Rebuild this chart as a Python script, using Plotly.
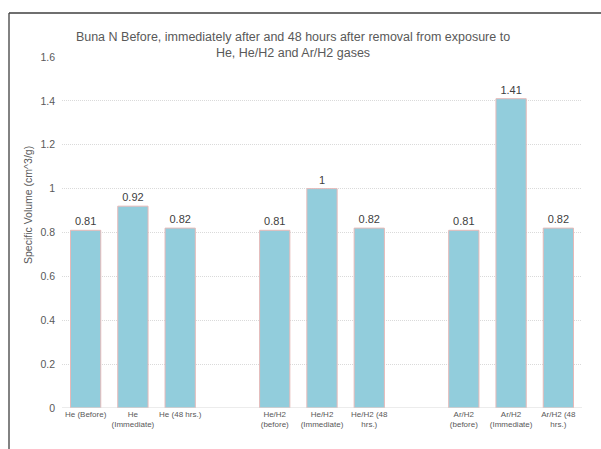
import plotly.graph_objects as go

# Category slots (blank slots separate the three gas groups)
categories = ["He (Before)", "He<br>(Immediate)", "He (48 hrs.)", " ",
              "He/H2<br>(before)", "He/H2<br>(Immediate)", "He/H2 (48<br>hrs.)", "  ",
              "Ar/H2<br>(before)", "Ar/H2<br>(Immediate)", "Ar/H2 (48<br>hrs.)"]
specific_volume = [0.81, 0.92, 0.82, None,
                   0.81, 1.0, 0.82, None,
                   0.81, 1.41, 0.82]
y_ticks = [0, 0.2, 0.4, 0.6, 0.8, 1.0, 1.2, 1.4, 1.6]
y_tick_text = ["0", "0.2", "0.4", "0.6", "0.8", "1", "1.2", "1.4", "1.6"]

labels = [None if v is None else f"{v:g}" for v in specific_volume]

W, H = 601, 449
ML, MR, MT, MB = 62, 19, 57, 41

fig = go.Figure(go.Bar(
    x=categories,
    y=specific_volume,
    text=labels,
    textposition="outside",
    cliponaxis=False,
    textfont=dict(family="Liberation Sans, Arial", size=11, color="#404040"),
    marker=dict(color="#92CDDC", line=dict(color="#E6B9B8", width=1)),
    hoverinfo="x+y",
))

pw = W - ML - MR
ph = H - MT - MB
# outer frame: left and top edges
fx0 = (9 - ML) / pw
fy1 = 1 + (MT - 13) / ph
fy0 = -(MB) / ph - 0.01
fx1 = 1 + MR / pw + 0.01

fig.update_layout(
    width=W, height=H,
    margin=dict(l=ML, r=MR, t=MT, b=MB),
    paper_bgcolor="white", plot_bgcolor="white",
    bargap=0.36,
    showlegend=False,
    font=dict(family="Liberation Sans, Arial", color="#595959"),
    title=dict(
        text="Buna N Before, immediately after and 48 hours after removal from exposure to<br>He, He/H2 and Ar/H2 gases",
        x=293 / W, xanchor="center",
        y=1 - 41 / H, yanchor="top",
        font=dict(size=12.5, color="#595959"),
    ),
    xaxis=dict(
        type="category",
        categoryorder="array", categoryarray=categories,
        showgrid=False, zeroline=False, showline=False, ticks="",
        tickfont=dict(size=8, color="#595959"),
        tickangle=0,
    ),
    yaxis=dict(
        range=[0, 1.6],
        tickvals=y_ticks, ticktext=y_tick_text,
        showgrid=True, gridcolor="#DADADA", griddash="1px,1px", gridwidth=1,
        zeroline=False, showline=False, ticks="",
        ticklabelstandoff=6,
        tickfont=dict(size=10.5, color="#595959"),
    ),
    shapes=[
        dict(type="line", xref="paper", yref="paper", x0=fx0, x1=fx0, y0=fy0, y1=fy1,
             line=dict(color="#3F3F3F", width=1.3)),
        dict(type="line", xref="paper", yref="paper", x0=fx0, x1=fx1, y0=fy1, y1=fy1,
             line=dict(color="#3F3F3F", width=1.3)),
        dict(type="line", xref="paper", yref="y", x0=0, x1=1, y0=0, y1=0,
             line=dict(color="#D9D9D9", width=1)),
    ],
    annotations=[
        dict(text="Specific Volume (cm^3/g)", xref="paper", yref="paper",
             x=(28 - ML) / pw, y=1 - (205 - MT) / ph, textangle=-90,
             showarrow=False, xanchor="center", yanchor="middle",
             font=dict(size=10.5, color="#595959")),
    ],
)

fig.write_html("out.html")
